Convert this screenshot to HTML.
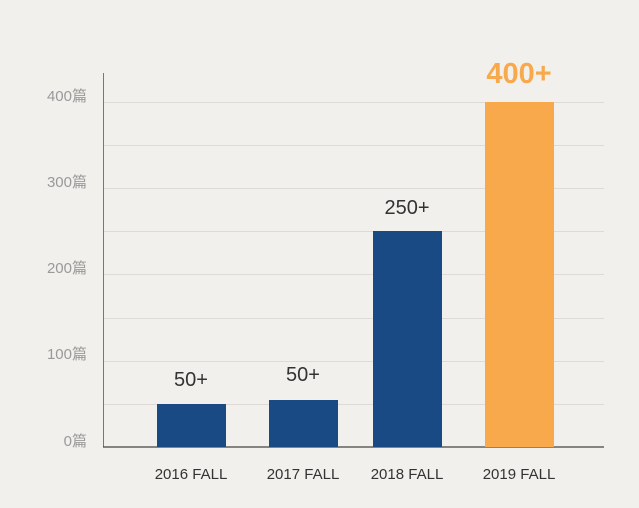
<!DOCTYPE html>
<html><head><meta charset="utf-8"><style>
body{margin:0;background:#f2f0ed;}
svg{display:block;font-family:"Liberation Sans","Noto Sans CJK SC",sans-serif;}
</style></head><body>
<svg width="639" height="508" viewBox="0 0 639 508">
<rect width="639" height="508" fill="#f2f0ed"/>
<g stroke="#dedbd6" stroke-width="1">
<line x1="104" x2="604" y1="102.5" y2="102.5"/>
<line x1="104" x2="604" y1="145.5" y2="145.5"/>
<line x1="104" x2="604" y1="188.5" y2="188.5"/>
<line x1="104" x2="604" y1="231.5" y2="231.5"/>
<line x1="104" x2="604" y1="274.5" y2="274.5"/>
<line x1="104" x2="604" y1="318.5" y2="318.5"/>
<line x1="104" x2="604" y1="361.5" y2="361.5"/>
<line x1="104" x2="604" y1="404.5" y2="404.5"/>
</g>
<line x1="103.5" x2="103.5" y1="73" y2="447" stroke="#777" stroke-width="1"/>
<line x1="103" x2="604" y1="447" y2="447" stroke="#444" stroke-width="1.2"/>
<g fill="#999" font-size="15" text-anchor="end">
<text x="87" y="101">400篇</text>
<text x="87" y="187">300篇</text>
<text x="87" y="273">200篇</text>
<text x="87" y="359">100篇</text>
<text x="87" y="446">0篇</text>
</g>
<rect x="157" y="404" width="69" height="43" fill="#1a4a84"/>
<rect x="269" y="400" width="69" height="47" fill="#1a4a84"/>
<rect x="373" y="231" width="69" height="216" fill="#1a4a84"/>
<rect x="485" y="102" width="69" height="345" fill="#f8a94b"/>
<g fill="#333" font-size="20" text-anchor="middle">
<text x="191" y="386">50+</text>
<text x="303" y="381">50+</text>
<text x="407" y="214">250+</text>
</g>
<text x="519" y="83" fill="#f8a94b" font-size="29" font-weight="bold" text-anchor="middle">400+</text>
<g fill="#333" font-size="15" text-anchor="middle">
<text x="191" y="479">2016 FALL</text>
<text x="303" y="479">2017 FALL</text>
<text x="407" y="479">2018 FALL</text>
<text x="519" y="479">2019 FALL</text>
</g>
</svg>
</body></html>
